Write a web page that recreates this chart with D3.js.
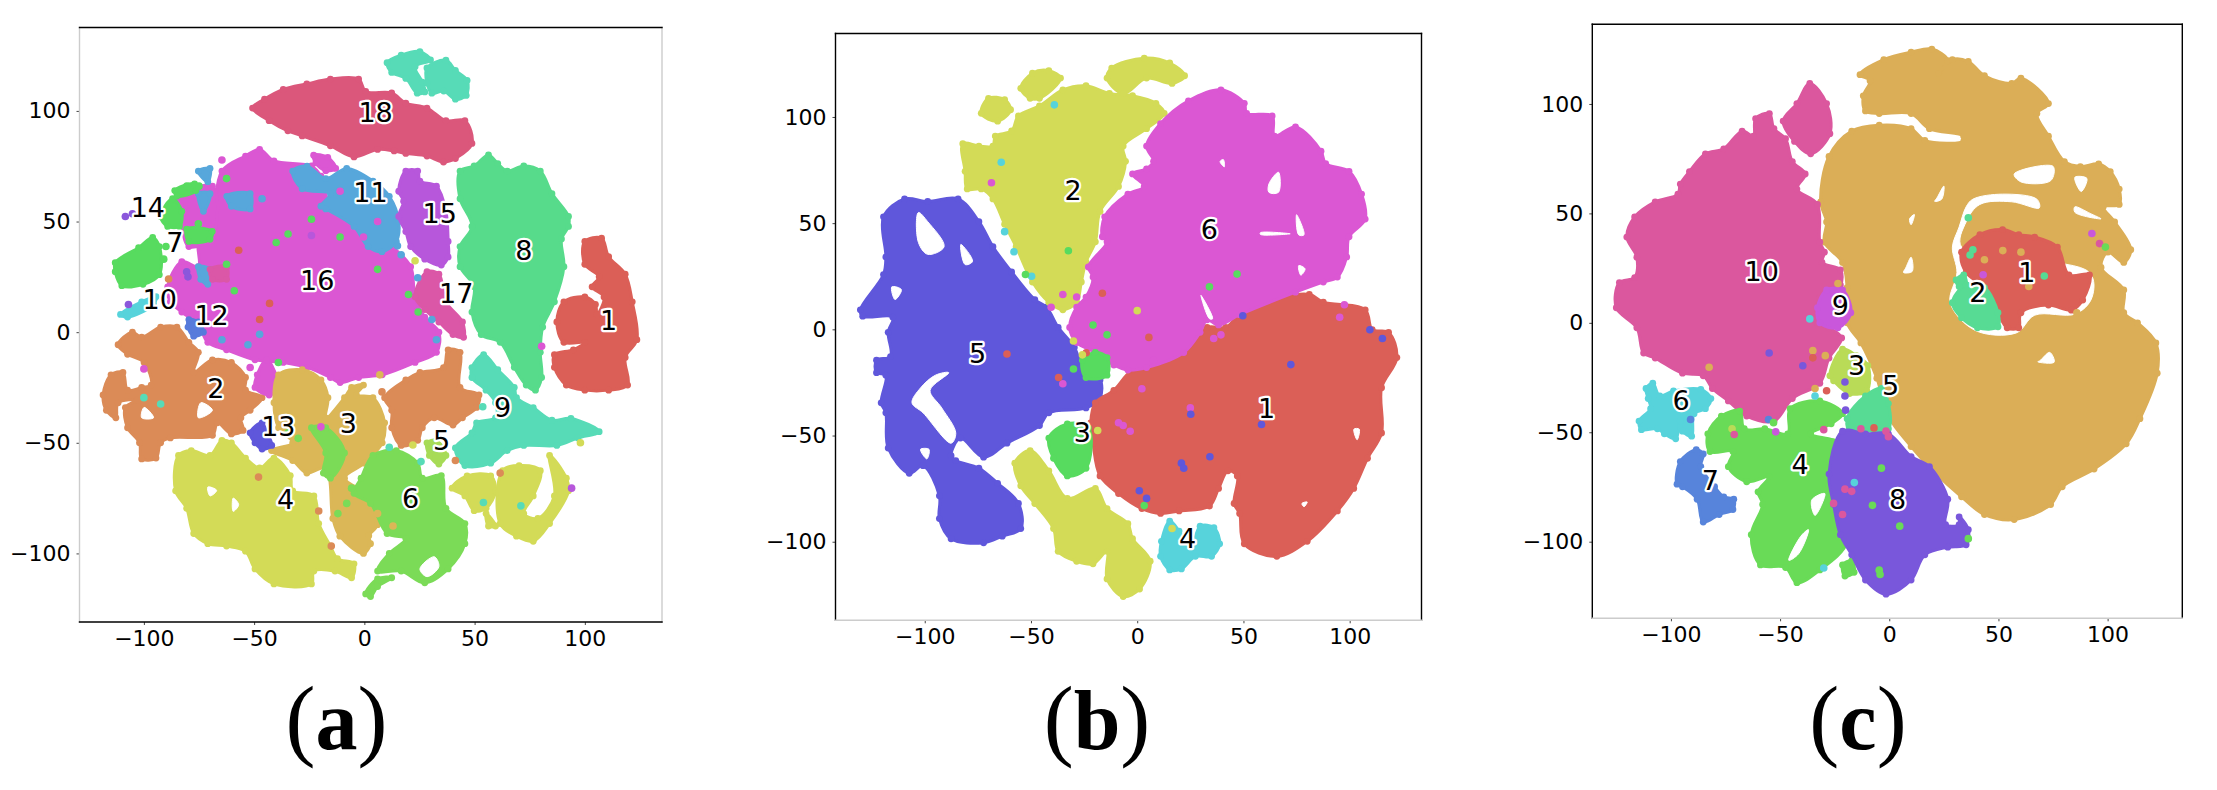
<!DOCTYPE html>
<html>
<head>
<meta charset="utf-8">
<script src="https://cdnjs.cloudflare.com/ajax/libs/d3/7.8.5/d3.min.js"></script>
<style>
html,body{margin:0;padding:0;background:#fff;}
svg{display:block;}
.tick text{font-family:"DejaVu Sans";font-size:22px;fill:#000;}
.tick line{stroke:#444;stroke-width:1;}
.axis path{display:none;}
.lab{font-family:"DejaVu Sans";font-size:27px;fill:#000;stroke:#fff;stroke-width:4.5px;paint-order:stroke;stroke-linejoin:round;text-anchor:middle;dominant-baseline:central;}
.cap{font-family:"Liberation Serif";font-size:90px;text-anchor:middle;}
.cap .let{font-weight:bold;font-size:84px;}
</style>
</head>
<body>
<div class="container"></div>
<script>
var tickValues = [-100,-50,0,50,100];

// ---- panel a, outlines in t-SNE units
var a18 = [[-50.7,101.3],[-45.3,105.3],[-36.8,109.7],[-26.1,112.2],[-15.4,114.4],[-2.6,114.4],[0.6,108.8],[12.4,108.1],[18.8,103.5],[28.4,101.3],[37,95.6],[45.6,95.6],[48.8,85.3],[41.3,78.5],[35.9,76.9],[28.4,79.6],[18.8,80.8],[13.5,81.9],[6,82.6],[-4.7,79.2],[-15.4,84.2],[-28.2,88.7],[-34.7,91],[-43.2,95.6]];
var a16small = [[-23,80],[-16.6,79],[-13,74],[-17.5,73],[-22,76.5]];
var a9top1 = [[10.3,121.8],[16.7,125.2],[25.2,126.8],[30,123],[23,120],[26.3,113],[27.4,108.6],[24,108],[18.8,114.7],[12.4,117.4]];
var a9top2 = [[28.4,119.4],[37,122.9],[41.3,118.3],[46.6,113.8],[46.2,107],[41.3,105.3],[36,109],[30.6,108],[28.4,112.6]];
var a8 = [[43.4,72.8],[49.8,75.1],[56.3,80.1],[60.5,76.2],[64.8,72.8],[72.3,75.1],[79.8,72.8],[85.1,62.6],[92.6,52.3],[92.6,47.8],[89.4,42.1],[90.5,29.6],[86.2,13.7],[80.9,2.3],[79.8,-9.1],[80.4,-20.5],[77.6,-26.2],[73.4,-23.9],[68,-15.9],[61.6,-4.6],[53,-1.1],[48.8,9.1],[49.8,20.5],[43.4,29.6],[43.4,38.7],[48.8,47.8],[43.4,60.3]];
var a1 = [[100,41],[107.6,42.5],[110.8,34.1],[118.3,26.2],[121.5,13.7],[123.6,-3.4],[118.3,-11.4],[119.4,-23.9],[110.8,-26.2],[100,-26.2],[91.6,-23.9],[86.2,-15.9],[86.2,-10.2],[94.8,-8],[100,-4.6],[90.5,-4.6],[87.3,4.6],[90.5,13.7],[100,15.9],[104.8,12.5],[105.5,8],[108.7,15.9],[103.3,20.5],[106.5,25],[100,30.7]];
var a16 = [[-89.2,20.5],[-82.8,31.9],[-75.3,29.6],[-75.3,41],[-68.9,52.3],[-64.6,72.8],[-53.9,79.6],[-47.5,82.6],[-41,77.4],[-24,75.1],[-19.7,70.5],[-15.4,56.9],[-2.6,47.8],[12.4,38.7],[21,29.6],[23,15.9],[27.4,6.8],[33.8,0],[32.7,-9.1],[23,-13.7],[8.1,-19.3],[-2.6,-20.5],[-11,-22.8],[-15.4,-20.5],[-26,-15.9],[-36.8,-13.7],[-49.6,-12.5],[-62.5,-8],[-71,-4.6],[-75.3,3.4],[-82.8,9.1],[-88,13.7]];
var a16left = [[-83.9,60.3],[-68.9,66],[-68.9,43.2],[-79.6,38.7],[-82.8,48.4]];
var a11 = [[-32.5,72.8],[-26,75],[-17.5,69.4],[-8,74],[3.9,68.3],[11.3,61.4],[15.6,50],[14.5,41],[8,36.4],[1.7,38.7],[-4.7,47.8],[-17.5,55.7],[-19.7,56.9],[-15.4,62.6],[-28.2,64.8]];
var a11left = [[-75.3,29.6],[-70,28.4],[-71,21.6],[-74.2,23.9]];
var a11spot1 = [[-62.4,61.4],[-51.8,62.6],[-51.8,55.7],[-60.3,56.9]];
var a11spot2 = [[-75.3,72.8],[-70,74],[-71,68]];
var a11spot3 = [[-75.3,62.6],[-70,62.6],[-73,54.6]];
var a17patch = [[-70,28.4],[-62.5,29.6],[-62.5,23.9],[-68.9,23.9]];
var a7top = [[-92.4,52.3],[-87,60.3],[-82.8,54.6],[-83.9,47.8],[-89.2,47.8]];
var a7band1 = [[-86,64],[-77,67],[-76.4,64],[-85,61.5]];
var a7band2 = [[-80.6,46.6],[-69,45.5],[-70,42],[-79.6,41]];
var a7big = [[-113,31.4],[-102.4,38.2],[-96,42.8],[-93,38.7],[-93,26],[-100.4,21.6],[-110,21],[-113,27.3]];
var a10 = [[-110.6,8],[-101,13.7],[-94.5,16],[-95.6,12.5],[-107.4,6.8]];
var a12 = [[-79.6,5.7],[-75.3,4.6],[-73,0],[-77.4,-1.8],[-80,2.3]];
var a2 = [[-111.7,-5.7],[-105.2,0],[-101,-2.3],[-92.4,2.3],[-85,2.3],[-79.6,-4.6],[-75.3,-9.1],[-77.4,-18.2],[-68.9,-12.5],[-60.3,-13.7],[-53.9,-20.5],[-53.9,-26.2],[-46.4,-29.6],[-51.8,-35.3],[-56,-38.7],[-55,-44.4],[-60.3,-46],[-66.7,-41],[-68.9,-46.6],[-88,-47.8],[-92.4,-50],[-94.5,-56.9],[-101,-57.3],[-102,-50],[-107.4,-43.2],[-108.4,-34.1],[-103,-30.7],[-111.7,-31.9],[-112.7,-38.7],[-117,-35.3],[-118.5,-28.4],[-114.9,-19.3],[-109.5,-18.2],[-107.4,-26.2],[-101,-25],[-96.7,-23.9],[-99.9,-13.7],[-107.4,-10]];
var a2gap1 = [[-99.9,-34],[-95.6,-38.7],[-101,-38.7]];
var a2gap2 = [[-74.2,-31.9],[-68.9,-35.3],[-75.3,-38.7]];
var a16low = [[-48.6,-19.3],[-44.3,-12.5],[-38.9,-25],[-43.2,-28.4],[-49.6,-25]];
var a3 = [[-38.9,-19.3],[-28.2,-17],[-19.7,-21.6],[-16.5,-29.6],[-17.5,-38.7],[-9,-29.6],[-5.8,-25],[-0.4,-23.9],[-3.6,-28.4],[3.9,-29.6],[9.2,-41],[8.1,-50],[0,-59.2],[-9,-66],[3.9,-75],[6,-87],[2,-92],[2.8,-95.6],[-0.4,-100],[-11.1,-92.2],[-14.3,-84.2],[-17.5,-61.4],[-26.1,-63.7],[-32.5,-58],[-42.1,-53.5],[-32.5,-50],[-38.9,-43.2],[-41,-31.9]];
var a6strip = [[-24,-43.2],[-17.5,-43.2],[-9,-54.6],[-15.4,-66],[-18.6,-63.7],[-17.5,-54.6]];
var a6 = [[-1.5,-66],[3.9,-55.7],[14.5,-53.5],[24.2,-59.2],[26.3,-66],[34.9,-64.8],[37,-79.6],[45.6,-86.5],[45.6,-95.6],[38,-107],[27.4,-113.3],[16.7,-108],[6,-108],[11.3,-100],[18.8,-93.3],[10.3,-91],[2.8,-77.4],[-4.7,-72.8]];
var a6tail = [[0.6,-118.3],[6,-111.5],[12.4,-111],[6,-115],[2.8,-119.5]];
var a6gap = [[25.2,-107],[31.7,-101.5],[33.8,-106],[28.4,-110.5]];
var a4 = [[-84.3,-55.7],[-78.5,-53.5],[-70,-55.7],[-64.6,-48.9],[-60.3,-50],[-53.9,-56.9],[-47.5,-61.4],[-41,-56.9],[-33.6,-64.8],[-32.5,-71.7],[-22.9,-74],[-20.7,-86.5],[-15.4,-96.7],[-12.2,-102.4],[-4.7,-104.7],[-5.8,-111],[-13.3,-108],[-22.9,-108],[-24,-113.8],[-41,-113.8],[-49.6,-107],[-53.9,-99],[-62.5,-96.7],[-71,-95.6],[-77.4,-91],[-80.6,-79.6],[-85.6,-71.7]];
var a4gap1 = [[-71,-70],[-67,-71.5],[-70,-74]];
var a4gap2 = [[-59.5,-75],[-57,-78],[-59.5,-81]];
var a4right1 = [[39.8,-70.5],[46.6,-65],[57.3,-65],[59.5,-71.7],[55.2,-79.6],[49.8,-80.7],[45.6,-74]];
var a4right2 = [[62.7,-62.6],[70.2,-60.3],[79.8,-62.6],[76.6,-74],[72.3,-82],[78.7,-84.2],[86.2,-74],[84,-55.7],[91.6,-66],[92.6,-71.7],[84,-86.5],[76.6,-94.5],[69,-92.2],[61.6,-86.5]];
var a4right3 = [[55.2,-82],[59.5,-87.6],[56.3,-87.6]];
var a2right = [[9.2,-29.6],[18.8,-21.6],[25.2,-18.2],[35.9,-16],[38,-8],[43.4,-9.1],[43.4,-25],[52,-28.4],[50.9,-34],[44.5,-38.7],[40.2,-42],[31.7,-38.7],[26.3,-43.2],[24.2,-48.9],[16.7,-51.2],[12.4,-43.2],[12.4,-35.3]];
var a5 = [[28.4,-50],[32.7,-49],[37,-55.7],[33.8,-59.6],[29.5,-55.7]];
var a9 = [[48.8,-16],[54.1,-10.2],[60.5,-17],[68,-25],[69,-29.6],[76.6,-34.1],[85.1,-39.8],[93.7,-39],[106.5,-45],[96.9,-47.8],[87.3,-51.2],[72.3,-51.2],[64.8,-53.5],[57.3,-59.2],[45.6,-60.3],[41.3,-52.3],[48.8,-45.5],[50.9,-41],[59.5,-38.7],[59.5,-31.9],[55.2,-26.2],[48.8,-20.5]];
var a13 = [[-51.8,-45.5],[-46.4,-41],[-44.3,-45.5],[-42,-51.2],[-46.4,-52.8],[-49.6,-50]];
var a15 = [[15.6,63.7],[18.8,72.8],[24.2,72.8],[25.2,68.3],[32.7,66],[37,54.6],[38,41],[38,34],[34.9,30.3],[27.4,33],[21,38.7],[18.8,45.5],[15.6,52.3],[17.8,59.2]];
var a17 = [[28.4,27.3],[33.8,26.2],[37,13.7],[44.5,4.6],[45,-2.3],[40.2,-1.1],[33.8,4.6],[27.4,10.2],[23,16]];
var strayA = [[-108.4,52.3,13],[-105.2,53.5,13],[-107,12.5,13],[-80.6,27.3,13],[-80,25,13],[-24,43.7,14],
 [6,28.4,6],[-39,-13.7,6],[24.4,9.1,6],[20,17,6],[-80.5,66,6],[-75,66,6],[-62.5,69.4,6],[-91.3,53.5,6],[-75.3,49,6],[-90,38.7,6],[-91,33,6],[-24,51,6],[-40,40.5,6],[-59,18.7,6],[-62.5,30.7,6],[-11,43,6],[-34.6,44.4,6],
 [8,-27,1],[-15,-96.7,1],[-20.7,-80.8,1],[-48,-65.5,1],[61.6,-63.7,1],[41.3,-58,1],[-88.8,24,1],
 [-19.7,-42.8,15],[-51.8,-16,15],[-64.6,77.8,15],[-100,-16.6,15],[80.4,-6.4,15],[94,-70.5,14],[-11,63.7,15],[6,50,15],[-0.4,43,15],
 [-100,-29.6,8],[-92.4,-32.5,8],[54,-77,8],[71,-78.5,8],[11.3,-52,8],[25.7,-58.5,8],[53.7,-33.7,8],
 [24.2,24.6,10],[16.7,35,10],[15,39,10],[30.6,5.7,10],[32.7,-3.4,10],[-46.4,60.3,10],[-47.5,-1,10],[-64.6,-3.4,10],[-52.8,-5.7,10],
 [13,-87.6,2],[7,-19.3,2],[23,32.3,3],[98,-50,3],[22,-51,3],
 [-34.6,-45.5,5],[-30,-48,5],[-5.8,-70.5,5],[-12,-82,5],[-8,-77.4,5],[6,-82,2],
 [-47.5,5.7,0],[-43,13,0],[-57,37,0]];
var labelsA = [[110.8,5.2,"1"],[-67.4,-25.5,"2"],[-7.3,-41.4,"3"],[-35.7,-75.8,"4"],[35,-49,"5"],[21,-75,"6"],[-86,40.5,"7"],[72.3,36.9,"8"],[62.7,-34,"9"],[-92.8,14.8,"10"],[2.8,63.3,"11"],[-69.3,7.5,"12"],[-39,-42.8,"13"],[-98.2,56.2,"14"],[34.2,53.5,"15"],[-21.4,23.2,"16"],[41.7,17.7,"17"],[5.1,99.2,"18"]];

// ---- panel b
var b5 = [[-130.3,9.2],[-119.4,25.8],[-118.3,34.1],[-119.4,53],[-109.5,61.4],[-98.6,60.2],[-84.3,61.4],[-74.5,50.7],[-67.9,38.9],[-59.1,27],[-48.2,14],[-42.7,10.4],[-37.2,0.9],[-29.6,-8.5],[-24.1,-21.6],[-17.5,-23.9],[-17.5,-32.2],[-24.1,-37],[-41.6,-39.3],[-46,-45.3],[-61.3,-53.6],[-72.3,-60.2],[-83.2,-51.2],[-87.6,-59.5],[-85.4,-61.8],[-74.5,-65.4],[-65.7,-72.5],[-55.9,-82],[-54.8,-93.8],[-63.5,-97.4],[-72.3,-100.5],[-87.6,-98.6],[-93.1,-89.1],[-93.1,-78.4],[-100.8,-64.2],[-107.3,-67.8],[-117.2,-55.9],[-118.3,-39.3],[-120.5,-34.6],[-118.3,-21.6],[-122.7,-20.4],[-122.7,-14.5],[-116.1,-12.8],[-117.2,-1.4],[-115,5.7],[-129.2,6.2]];
var b5gap1 = [[-103,55],[-98.6,50.7],[-90.9,38.9],[-98.6,35.3],[-103,41]];
var b5gap2 = [[-83,40],[-77.5,32],[-81,30.5]];
var b5gap3 = [[-115.5,20],[-111,18.7],[-114,14]];
var b5gap4 = [[-95,-21.6],[-88.7,-20.4],[-97.5,-28.7],[-92,-37],[-85.4,-48.8],[-87.6,-53.6],[-100.8,-39.3],[-106,-34.6],[-102,-27.6]];
var b5gap5 = [[-102,-56.5],[-98,-56.5],[-99,-61]];
var b2 = [[-66.8,91],[-59.1,93.4],[-55.9,100.5],[-46,105.2],[-35,112.8],[-24.1,114.7],[-13.1,111.1],[-2.2,110],[8.8,106.4],[12.7,101.7],[4.4,94.5],[-6.6,86.3],[-5.5,79.1],[-8.8,67.3],[-17.5,55.5],[-19.7,41.2],[-24.1,31.8],[-26.3,22.3],[-28.5,12.8],[-35,9.2],[-41.6,12.8],[-49.3,22.3],[-57,38.9],[-62.4,49.5],[-67.9,61.4],[-73.4,66.1],[-80,66.1],[-81,74.4],[-82.1,87.4],[-74.5,86.3],[-67.9,86.3]];
var b2isle1 = [[-73.4,101.7],[-70,108.8],[-62.4,108.1],[-59.6,103.4],[-65.7,98]];
var b2isle2 = [[-54.8,113.5],[-49.3,120.6],[-41.6,121.8],[-36.1,118.3],[-46,108.8],[-50.4,108.8]];
var b2isle3 = [[-14.2,118.3],[-12,123],[3.3,127.7],[15.3,125.4],[22.3,119.4],[16.4,115.8],[4.4,118.3],[-6.6,111]];
var b6 = [[-2.2,73.2],[4.4,75.6],[7.7,79.1],[4.4,86.3],[11,96.9],[24.1,107.6],[39.4,112.8],[50.4,106.4],[51.5,101.7],[63.5,100.5],[64.6,91],[74.5,95.3],[86.5,83.9],[88.7,78],[99.7,74.4],[105.6,63.7],[107.3,51.9],[99.7,43.6],[98.6,34.1],[94.2,24.6],[87.6,22.3],[74.5,17.5],[48.2,6.9],[38.3,2.1],[32.9,4.5],[29.6,-1.4],[21.9,-10.9],[4.4,-18],[-4.4,-19.2],[-11,-16.8],[-19.7,-10.9],[-28.5,-6.2],[-31.8,0.9],[-28.5,10.4],[-24.1,15.2],[-20.8,24.6],[-23,29.4],[-14.2,41.2],[-16.4,43.6],[-15.3,53],[-4.4,63.7],[3.3,67.3]];
var b6gap1 = [[62,68.5],[66.5,74],[66.5,64.5],[62,64.5]];
var b6gap2 = [[39,79],[40.5,80],[41,76.5]];
var b6gap3 = [[58,45.5],[72,45],[58,44.7]];
var b6gap4 = [[75,54],[78.5,44.5],[76,44.5]];
var b6gap5 = [[76,30],[79,28.5],[77,25.5]];
var b6gap6 = [[30,16],[35.5,5],[34,5]];
var b1 = [[-19.7,-34.6],[-11,-28.7],[-2.2,-19.2],[21.9,-10.9],[32.9,0.9],[41.6,0.9],[48.2,6.9],[59.1,12.8],[81,16.4],[87.6,12.8],[107.3,9.2],[110.6,-0.2],[118.3,-1.4],[122.2,-13.3],[115,-27.5],[115,-48.8],[108.4,-60.7],[101.9,-74.9],[94.2,-85.5],[80,-99.8],[65.7,-106.9],[50.4,-101],[48.2,-86.7],[45.6,-82],[47.1,-69],[42.7,-66.6],[38.3,-74.9],[34,-83.2],[19.7,-85.5],[11,-86.7],[2.2,-84.4],[-8.8,-77.3],[-17.5,-69],[-20.8,-53.6],[-21.9,-44.1]];
var b1gap1 = [[102,-47],[104.5,-47],[103.5,-52]];
var b1gap2 = [[77.5,-82],[80,-81.3],[78.5,-83.5]];
var b3low = [[-41.6,-51.2],[-32.9,-44.5],[-23,-46.4],[-24.1,-65.4],[-32.9,-69],[-39.4,-60.7]];
var b3mid = [[-25.8,-14.5],[-19.7,-10.9],[-14.2,-13.3],[-14.2,-21.6],[-24.1,-22.7]];
var b2low = [[-57.6,-63],[-50.4,-57.1],[-41.6,-66.6],[-32.9,-79.6],[-19.7,-74.9],[-14.2,-84.4],[-4.4,-91.5],[-2.2,-98.6],[6.1,-109.2],[1.1,-122.3],[-6.6,-125.8],[-14.2,-117.5],[-14.2,-104.5],[-20.8,-110.4],[-28.5,-109.2],[-37.2,-104.5],[-39.4,-93.8],[-48.2,-82],[-54.8,-73.7]];
var b4 = [[11.4,-99.8],[15.3,-90.3],[19.7,-95],[25.2,-103.3],[29.6,-92.7],[36.1,-93.4],[38.8,-101],[35,-106.9],[27.4,-106.9],[20.8,-112.8],[15.3,-113.3],[11,-106.9]];
var strayB = [[-64,78.7,3],[-39,105.7,3],[-62.4,46,3],[-58,36.5,3],[-49.7,25,3],
 [-52.6,25.8,2],[-32.4,37,2],[-20.8,2,2],[-14.2,-2.6,2],[47,26,2],[34,20,2],[3.3,-83,2],[-30,-18.7,2],
 [-68.6,69,5],[-35,-25.6,5],[95.3,5.7,5],[97.5,11.6,5],[-8.8,-44,5],[-3.3,-48,5],[-6.6,-45.3,5],[7.7,-14.5,5],[2.2,-28,5],[39.4,-2.6,5],[25,-37,5],[36,-4.3,5],[-40.5,10.4,5],[-28.5,15.2,5],[-35,16.4,5],
 [58.5,-44.8,4],[72.3,-16.6,4],[25.2,-40,4],[34.2,-60,4],[20.8,-63,4],[21.9,-65.4,4],[115.4,-4.3,4],[109.5,-0.2,4],[4.4,-79.6,4],[1,-76,4],[49.7,6.4,4],
 [5.5,-3.8,0],[-61.3,-11.6,0],[-16.4,17,0],[-24,-11,0],[-37,-22.7,0],
 [-30,-5.5,1],[0,8.8,1],[16.4,-93.8,1],[-25.8,-12,1],[-18.6,-47.6,1]];
var labelsB = [[60.9,-37.4,"1"],[-30.2,65.4,"2"],[-25.8,-48.8,"3"],[23.7,-98.6,"4"],[-75.1,-11.6,"5"],[34,47.2,"6"]];

// ---- panel c
var cTan = [[-13.4,113.4],[-2.5,120.3],[10,123.7],[19.5,125.1],[26.8,119.8],[22.6,114],[28.9,120.3],[36.2,119.4],[43.6,112.9],[56.1,109.4],[60.3,111.8],[72.9,100.2],[67.6,95.6],[72.9,85.3],[80.2,73.7],[87.5,71.4],[95.9,72.6],[101.2,69.1],[105.3,61.1],[105.3,54.1],[98,53],[103.2,46.1],[110.6,33.4],[107.4,27.6],[100.1,32.3],[97,25.3],[107.4,15],[107.4,4.6],[113.7,0],[122.1,-9.2],[122.7,-23],[114.8,-43.8],[108.5,-55.3],[93.8,-66.8],[79.2,-74.9],[73.9,-83],[57.2,-89.9],[43.6,-87.6],[33.1,-79.5],[20.5,-68],[10,-56.5],[-0.4,-42.6],[-5.7,-25.3],[-13,-9.2],[-19.3,0],[-19.3,16.1],[-21.4,27.6],[-29.7,36.9],[-28.7,46.1],[-31.4,55.3],[-27.6,76],[-17.2,87.6],[-4.6,90.3],[10,88.7],[16.3,83.4],[34.1,83],[34.1,85.3],[18.4,88.7],[10,95.6],[-4.6,95.6],[-10.9,96.8],[-11.9,103.7],[-8.8,110.6]];
var cRing = [[38.3,56.5],[51.9,58.8],[67.6,56.5],[68.7,52.5],[56.1,55.3],[41.5,54.1],[35.2,46.1],[33.1,34.6],[91.7,23],[92.8,11.5],[85.4,4.1],[66.6,3.5],[58.2,-4.6],[39.4,-3.5],[27.9,9.2],[31,23],[28.9,34.6],[32,43.8],[35.2,53]];
var cGap1 = [[57.2,68],[75,71.5],[74,65],[60.3,64.4]];
var cGap2 = [[85,53],[92,50],[97,47.5],[85,50.5]];
var cGap3 = [[85,66.5],[90.5,66],[87.9,60]];
var cGap4 = [[69,-17.3],[73.5,-13.5],[75.5,-18],[68,-17.8]];
var cGap5 = [[7.5,25],[10,30],[10.5,23.5],[6.5,23]];
var cGap6 = [[21.8,57],[25,62.5],[24,56.5],[20.8,55.5]];
var cGap7 = [[9.3,47.5],[11.5,49.5],[10,44.8]];
var c1 = [[33.1,32.3],[41.5,40.3],[51.9,42.6],[59.3,40.3],[66.6,39.2],[77,34.6],[82.3,21.9],[91.7,21.9],[88.6,10.4],[83.4,5.8],[72.9,8.1],[60.3,4.6],[59.3,-2.3],[54,-2.3],[49.8,4.6],[43.6,16.1],[35.2,23]];
var c2 = [[28.9,9.2],[35.2,17.3],[43.6,16.1],[49.8,4.6],[49.8,-1.8],[40.4,-2.3],[33.1,2.3]];
var c2top = [[30.6,19.6],[34.1,21.9],[35.2,17.3],[32,16.6]];
var c10 = [[-125,6.9],[-123.6,18.4],[-116.6,20.7],[-115.6,30],[-120.2,39.2],[-116.6,48.4],[-107.2,55.3],[-96.8,58.8],[-95.7,63.4],[-91.5,69.1],[-84.2,77.2],[-75.8,79.5],[-67.4,87.6],[-62.2,85.3],[-61.2,93.3],[-54.9,95.6],[-52.8,88.7],[-47.5,84.1],[-44.4,73.7],[-38.5,68],[-42.3,61.1],[-32.9,54.1],[-31.8,36.9],[-29.7,32.3],[-30.8,27.6],[-22.4,24.2],[-22.4,17.3],[-31.8,11.5],[-32.9,0],[-27.6,-2.3],[-21.8,-6.9],[-27.6,-16.1],[-31.8,-27.6],[-44.4,-34.6],[-52.8,-44.9],[-65.3,-42.6],[-73.7,-35.7],[-81,-30],[-85.2,-24.2],[-94.7,-23],[-107.2,-16.1],[-112.5,-13.8],[-115.6,-2.3]];
var c10top = [[-48.6,92.2],[-42.3,100.2],[-36.4,109.4],[-28.7,100.2],[-27.2,86.4],[-36,77.2],[-43.4,82.9]];
var c9 = [[-32.9,6.9],[-28.7,15],[-21.4,15],[-17.6,4.6],[-23.5,-2.3],[-31.8,0]];
var c3 = [[-27.2,-24.2],[-21.4,-12],[-15.1,-15],[-9.8,-19.6],[-10.3,-31.1],[-18.2,-32.3],[-25.5,-26.5]];
var c5 = [[-19.3,-43.8],[-10.9,-33.4],[-3.6,-30],[-0.4,-36.9],[-0.4,-48.4],[-10.9,-49.5],[-17.2,-51.8]];
var c8 = [[-27.6,-69.1],[-21.4,-49.5],[-10.9,-50.7],[-0.4,-50.7],[10,-61.1],[18.4,-65.7],[26.8,-80.6],[25.8,-92.2],[32,-92.2],[32,-88.7],[36.2,-94.5],[35.2,-101.4],[26.8,-102.5],[16.3,-106],[10,-117.5],[-1.5,-124],[-10.9,-117.5],[-17.2,-106],[-22.4,-96.8],[-25.5,-82.9]];
var c4 = [[-83.1,-50.7],[-76.9,-42.6],[-68.5,-40.3],[-66.4,-48.4],[-57,-48.4],[-46.5,-50.7],[-45.4,-39.2],[-31.8,-35.7],[-21.4,-41.5],[-26.6,-46.1],[-36,-50.7],[-22.4,-55.3],[-25.5,-66.8],[-27.6,-74.9],[-22.4,-85.3],[-19.3,-100.2],[-31.8,-112.9],[-42.3,-118.7],[-47.5,-111.8],[-59,-110.6],[-63.2,-96.8],[-58,-83],[-60.1,-77.2],[-54.9,-70.3],[-65.3,-72.6],[-73.7,-65.7],[-71.6,-58.8],[-82.1,-58.8]];
var c4gap1 = [[-40.5,-97.5],[-37,-94.5],[-41.5,-105.5],[-46,-108.5]];
var c4gap2 = [[-35.5,-81],[-29.5,-78],[-34,-88]];
var c4small = [[-21.4,-110.6],[-17.2,-108.8],[-16.1,-114],[-20.3,-115.7]];
var c6 = [[-111.4,-30],[-108.3,-27.6],[-105.1,-33.4],[-98.8,-31.1],[-86.3,-30.4],[-81.7,-34.6],[-84.2,-39.2],[-89.4,-41.5],[-90.5,-51.8],[-94.7,-49.5],[-95.7,-44.9],[-97.8,-53],[-103,-50.7],[-106.2,-48.4],[-113.5,-48.8],[-114.6,-44.9],[-109.3,-39.2],[-110.4,-34.6]];
var c7 = [[-95.7,-63.4],[-88.4,-58],[-85.2,-59.9],[-86.3,-65.7],[-80,-74.9],[-75.8,-79.5],[-71.2,-80.6],[-71.6,-85.3],[-77.9,-87.6],[-85.2,-91],[-88,-80.6],[-94.7,-74.9],[-97.2,-73.7]];
var strayC = [[-55,-13.8,7],[-39.6,-19.6,7],[-20.3,-27,7],[-20.3,-33.4,7],[-20,-39.9,7],[-91,-44.2,6],[-55.3,-44.2,6],
 [43,22,8],[92.8,40.8,8],[96.3,36.2,9],[99,34.6,3],
 [71,21.4,4],[37,31,4],[38.3,33.4,4],[36.2,48,4],[-4.6,-113,3],[-4.2,-115,3],[36.2,-98.6,3],[-3.6,-66.4,3],[-7.7,-83.4,3],[4.8,-92.9,3],[-53,-45.6,3],
 [63.9,16.6,1],[52,33,1],[60.3,32.3,1],[43.6,28.8,1],[85.9,4.6,1],[-29.3,-15,1],[-35,-12.7,1],[-34,-30,1],[-23.5,18,1],[-82.5,-20.3,1],[-72,-48.4,2],
 [-30,-48.8,9],[-13,-48.4,9],[-7,-48,0],[-1.5,-49.5,9],[-0.4,-52,9],[-21.4,-87.6,9],[-25.5,-82.5,9],[-17.2,-77,9],[-20.3,-76,9],[-71,-51,9],[-52,-49.8,8],[-35,-16,0],[-28.7,-31,0],
 [-36.4,1.8,5],[-34,-33.4,5],[-30,-112,5],[-16,-73,5]];
var labelsC = [[63,23,"1"],[40.6,13.8,"2"],[-15,-19.6,"3"],[-40.8,-64.5,"4"],[0.6,-28.8,"5"],[-95.3,-35.7,"6"],[-81.9,-71.9,"7"],[3.8,-80.6,"8"],[-22.4,8,"9"],[-58.4,23.5,"10"]];

// hls palette, n colours; -1 in the draw lists means a white gap
function palette(n){
  return d3.range(n).map(function(i){ return d3.hsl(((0.01 + i/n) % 1)*360, 0.65, 0.6).formatHex(); });
}

var panels = [
  {box:[79.5,662,27.5,622], xd:[-129.2,135], yd:[137.7,-131], colors:palette(18), stray:strayA, labels:labelsA, cap:"a", capx:336.5,
   spines:{left:"#ccc",right:"#ccc",top:"#000",bottom:"#000"},
   draw:[[a18,17],[a16small,15],[a9top1,8],[a9top2,8],[a8,7],[a1,0],[a16,15],[a16left,15],[a11,10],[a11left,10],[a11spot1,10],[a11spot2,10],[a11spot3,10],[a17patch,16],[a7top,6],[a7band1,6],[a7band2,6],[a7big,6],[a10,9],[a12,11],[a2,1],[a2gap1,-1],[a2gap2,-1],[a16low,15],[a3,2],[a6strip,5],[a6,5],[a6tail,5],[a6gap,-1],[a4,3],[a4gap1,-1],[a4gap2,-1],[a4right1,3],[a4right2,3],[a4right3,3],[a2right,1],[a5,4],[a9,8],[a13,12],[a15,14],[a17,16]]},
  {box:[835.5,1421.5,33.5,620.3], xd:[-142,133.8], yd:[139.3,-137], colors:palette(6), stray:strayB, labels:labelsB, cap:"b", capx:1097,
   spines:{left:"#000",right:"#000",top:"#000",bottom:"#ccc"},
   draw:[[b5,4],[b5gap1,-1],[b5gap2,-1],[b5gap3,-1],[b5gap4,-1],[b5gap5,-1],[b2,1],[b2isle1,1],[b2isle2,1],[b2isle3,1],[b1,0],[b1gap1,-1],[b1gap2,-1],[b6,5],[b6gap1,-1],[b6gap2,-1],[b6gap3,-1],[b6gap4,-1],[b6gap5,-1],[b6gap6,-1],[b3low,2],[b3mid,2],[b2low,1],[b4,3]]},
  {box:[1592.3,2182.3,24.3,618.3], xd:[-136,134.2], yd:[136.4,-135], colors:palette(10), stray:strayC, labels:labelsC, cap:"c", capx:1858,
   spines:{left:"#000",right:"#000",top:"#000",bottom:"#ccc"},
   draw:[[cTan,1],[cRing,-1],[cGap1,-1],[cGap2,-1],[cGap3,-1],[cGap4,-1],[cGap5,-1],[cGap6,-1],[cGap7,-1],[c1,0],[c2,4],[c2top,4],[c10,9],[c10top,9],[c9,8],[c3,2],[c5,4],[c4,3],[c4gap1,-1],[c4gap2,-1],[c4small,3],[c8,7],[c6,5],[c7,6]]}
];

var svg = d3.select(".container").append("svg").attr("width",2217).attr("height",790);

panels.forEach(function(p){
  var x = d3.scaleLinear().domain(p.xd).range([p.box[0],p.box[1]]);
  var y = d3.scaleLinear().domain(p.yd).range([p.box[2],p.box[3]]);
  var g = svg.append("g");
  var line = d3.line().x(function(d){return x(d[0]);}).y(function(d){return y(d[1]);}).curve(d3.curveCatmullRomClosed.alpha(0.5));
  function col(c){ return c < 0 ? "#fff" : p.colors[c]; }

  // blobs
  p.draw.forEach(function(item){
    var c = col(item[1]);
    g.append("path").attr("d", line(item[0])).attr("fill",c).attr("stroke",c)
      .attr("stroke-width", item[1] < 0 ? 1 : 3).attr("stroke-linejoin","round");
    if(item[1] >= 0){
      g.selectAll(null).data(item[0]).enter().append("circle")
        .attr("cx",function(d){return x(d[0]);}).attr("cy",function(d){return y(d[1]);})
        .attr("r",3.4).attr("fill",c);
    }
  });

  // stray points
  g.selectAll(null).data(p.stray).enter().append("circle")
    .attr("cx",function(d){return x(d[0]);}).attr("cy",function(d){return y(d[1]);})
    .attr("r",3.8).attr("fill",function(d){return col(d[2]);});

  // axes
  svg.append("g").attr("class","axis").attr("transform","translate(0,"+p.box[3]+")")
    .call(d3.axisBottom(x).tickValues(tickValues).tickSize(3).tickPadding(5));
  svg.append("g").attr("class","axis").attr("transform","translate("+p.box[0]+",0)")
    .call(d3.axisLeft(y).tickValues(tickValues).tickSize(3).tickPadding(6));

  // spines, the colours differ per side in the source
  var b = p.box, s = p.spines;
  [[b[0],b[2],b[0],b[3],s.left],[b[1],b[2],b[1],b[3],s.right],[b[0],b[2],b[1],b[2],s.top],[b[0],b[3],b[1],b[3],s.bottom]].forEach(function(l){
    svg.append("line").attr("x1",l[0]).attr("y1",l[1]).attr("x2",l[2]).attr("y2",l[3])
      .attr("stroke",l[4]).attr("stroke-width",1.4).attr("stroke-linecap","square");
  });

  // cluster numbers
  svg.selectAll(null).data(p.labels).enter().append("text").attr("class","lab")
    .attr("x",function(d){return x(d[0]);}).attr("y",function(d){return y(d[1]);})
    .text(function(d){return d[2];});

  // caption: thin parentheses round a bold letter
  var cap = svg.append("text").attr("class","cap").attr("x",p.capx).attr("y",749);
  cap.append("tspan").text("(");
  cap.append("tspan").attr("class","let").text(p.cap);
  cap.append("tspan").text(")");
});
</script>
</body>
</html>
